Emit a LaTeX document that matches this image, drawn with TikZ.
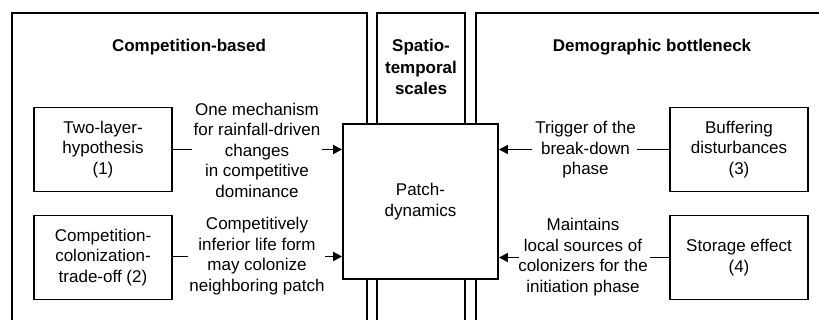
\documentclass[tikz,border=0pt]{standalone}
\usepackage{fontspec}
\setmainfont{Liberation Sans}
\usetikzlibrary{arrows.meta}
\begin{document}
\begin{tikzpicture}[x=1pt,y=1pt,
  lw/.style={line width=1.9pt},
  txt/.style={font=\fontsize{17}{20.5}\selectfont, align=center, inner sep=0pt},
  hdr/.style={txt, font=\fontsize{17}{21.5}\selectfont\bfseries},
  sbox/.style={draw, lw, minimum width=138pt, minimum height=84pt, txt},
  arr/.style={lw, -{Triangle[length=9pt,width=9pt]}}
]
\useasboundingbox (0,0) rectangle (819,-320);
\begin{scope}
\clip (0,0) rectangle (819,-320);
% outer frames
\draw[lw] (12,-340) -- (12,-13) -- (367,-13) -- (367,-340);
\draw[lw] (377,-340) -- (377,-13) -- (465,-13) -- (465,-340);
\draw[lw] (476,-340) -- (476,-13) -- (840,-13) -- (840,-340);
\end{scope}
% headers
\node[hdr] (hcomp) at (189,-47) {Competition-based};
\node[hdr] (hspat) at (421,-67) {Spatio-\\temporal\\scales};
\node[hdr] (hdemo) at (652,-47) {Demographic bottleneck};
% central box
\node[draw, lw, fill=white, txt, minimum width=155pt, minimum height=155pt] (patch) at (420.5,-201.5) {Patch-\\dynamics};
% side boxes
\node[sbox] (two) at (103,-149.5) {Two-layer-\\hypothesis\\(1)};
\node[sbox] (cct) at (103,-257.5) {Competition-\\colonization-\\trade-off (2)};
\node[sbox] (buf) at (739,-149.5) {Buffering\\disturbances\\(3)};
\node[sbox] (sto) at (739,-257.5) {Storage effect\\(4)};
% labels
\node[txt] (l1) at (257,-150) {One mechanism\\for rainfall-driven\\changes\\in competitive\\dominance};
\node[txt] (l2) at (257,-256) {Competitively\\inferior life form\\may colonize\\neighboring patch};
\node[txt] (l3) at (585.5,-150) {Trigger of the\\break-down\\phase};
\node[txt] (l4) at (583,-257) {Maintains\\local sources of\\colonizers for the\\initiation phase};
% connector gap coordinates
\coordinate (c1a) at (192,-149.5);
\coordinate (c1b) at (322,-149.5);
\coordinate (c2a) at (188,-256.5);
\coordinate (c2b) at (325,-256.5);
\coordinate (c3a) at (637,-149.5);
\coordinate (c3b) at (532,-149.5);
\coordinate (c4a) at (650,-257.5);
\coordinate (c4b) at (519,-257.5);
% connectors
\draw[lw] (two.east) -- (c1a);
\draw[arr] (c1b) -- (c1b -| patch.west);
\draw[lw] (cct.east |- c2a) -- (c2a);
\draw[arr] (c2b) -- (c2b -| patch.west);
\draw[lw] (buf.west) -- (c3a);
\draw[arr] (c3b) -- (c3b -| patch.east);
\draw[lw] (sto.west) -- (c4a);
\draw[arr] (c4b) -- (c4b -| patch.east);
\end{tikzpicture}
\end{document}
